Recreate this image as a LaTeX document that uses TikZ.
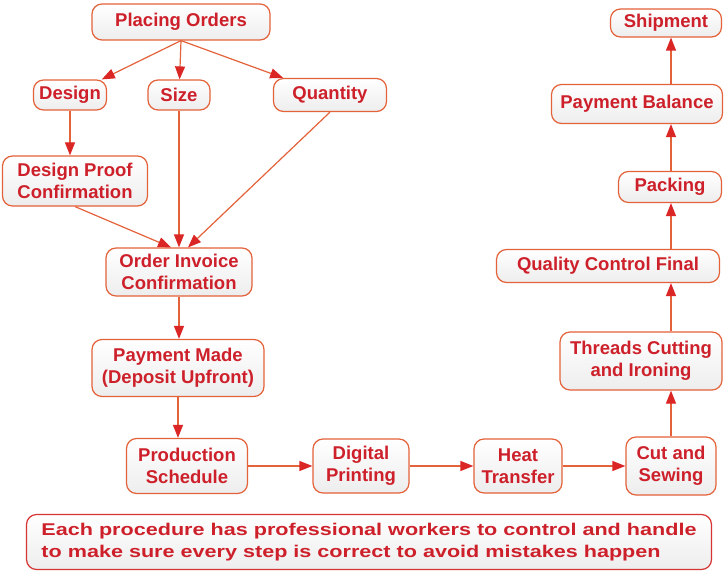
\documentclass[tikz,border=0pt]{standalone}
\usepackage{fontspec}
\setmainfont{Liberation Sans}
\newfontfamily\notefont[FakeStretch=1.27]{Liberation Sans}
\usetikzlibrary{arrows.meta,positioning}
\definecolor{labelred}{RGB}{205,32,42}
\definecolor{edgeorange}{RGB}{228,98,58}
\definecolor{tipred}{RGB}{218,38,36}
\definecolor{noteborder}{RGB}{215,52,52}
\tikzset{
  sbox/.style={draw=edgeorange,line width=1.2pt,rounded corners=10pt,
               top color=white,bottom color=black!7,text=labelred,
               font=\fontsize{18.5}{22}\selectfont\bfseries,align=center,inner sep=0pt},
  arr/.style={-{Triangle[length=13pt,width=10pt,color=tipred]},draw=edgeorange,line width=1.2pt},
}

\begin{document}
\begin{tikzpicture}[x=1pt,y=-1pt]
  \useasboundingbox[fill=white] (0,0) rectangle (727,580);
  % order side
  \node[sbox,minimum width=178pt,minimum height=36pt] (po) at (181,22) {Placing Orders};
  \node[sbox,minimum width=73pt,minimum height=30pt] (des) at (70,95) {Design};
  \node[sbox,minimum width=62pt,minimum height=30pt] (size) at (179,95) {Size};
  \node[sbox,minimum width=113pt,minimum height=33pt] (qty) at (330,95) {Quantity};
  \node[sbox,minimum width=145pt,minimum height=50pt] (dpc) at (75,181) {Design Proof\\Confirmation};
  \node[sbox,minimum width=146pt,minimum height=48pt] (oic) at (179,272) {Order Invoice\\Confirmation};
  \node[sbox,minimum width=172pt,minimum height=57pt] (pm) at (178,368) {Payment Made\\(Deposit Upfront)};
  % production line
  \node[sbox,minimum width=121pt,minimum height=55pt] (ps) at (187,466) {Production\\Schedule};
  \node[sbox,minimum width=96pt,minimum height=54pt] (dp) at (361,466) {Digital\\Printing};
  \node[sbox,minimum width=88pt,minimum height=54pt] (ht) at (518,466) {Heat\\Transfer};
  \node[sbox,minimum width=90pt,minimum height=58pt] (cut) at (671,466) {Cut and\\Sewing};
  % finishing
  \node[sbox,minimum width=162pt,minimum height=58pt] (thr) at (641,361) {Threads Cutting\\and Ironing};
  \node[sbox,minimum width=223pt,minimum height=33pt] (qcf) at (608,266) {Quality Control Final};
  \node[sbox,minimum width=103pt,minimum height=31pt] (pack) at (670,187) {Packing};
  \node[sbox,minimum width=171pt,minimum height=39pt] (pbal) at (637,104) {Payment Balance};
  \node[sbox,minimum width=111pt,minimum height=28pt] (ship) at (666,23) {Shipment};
  % note
  \node[sbox,draw=noteborder,align=left,minimum width=685pt,minimum height=55pt,
        font=\notefont\bfseries\fontsize{17}{22}\selectfont] (note) at (369,542)
        {Each procedure has professional workers to control and handle\\
         to make sure every step is correct to avoid mistakes happen};

  \draw[arr] (po.south) -- (des);
  \draw[arr] (po.south) -- (size);
  \draw[arr] (po.south) -- (qty);
  \draw[arr] (des.south) -- (des.south |- dpc.north);
  \draw[arr] (dpc.south) -- ([xshift=-8pt]oic.north);
  \draw[arr] (size) -- (size |- oic.north);
  \draw[arr] (qty.south) -- ([xshift=9pt]oic.north);
  \draw[arr] (oic.south) -- (oic.south |- pm.north);
  \draw[arr] (pm.south) -- (pm.south |- ps.north);
  \draw[arr] (ps) -- (dp);
  \draw[arr] (dp) -- (ht);
  \draw[arr] (ht) -- (cut);
  \draw[arr] (cut.north) -- (cut.north |- thr.south);
  \draw[arr] (cut.north |- thr.north) -- (cut.north |- qcf.south);
  \draw[arr] (cut.north |- qcf.north) -- (cut.north |- pack.south);
  \draw[arr] (cut.north |- pack.north) -- (cut.north |- pbal.south);
  \draw[arr] (cut.north |- pbal.north) -- (cut.north |- ship.south);
\end{tikzpicture}
\end{document}
